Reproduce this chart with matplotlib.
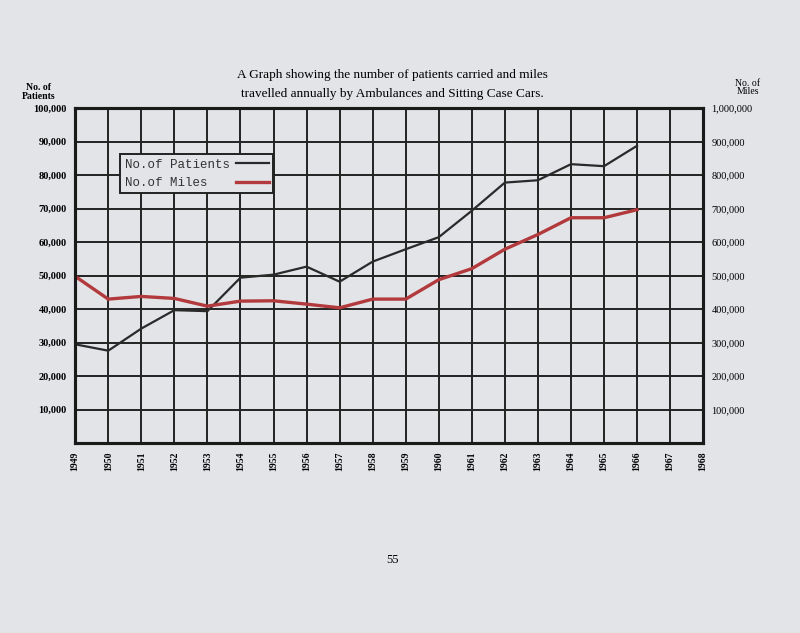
import matplotlib
matplotlib.use("Agg")
import matplotlib.pyplot as plt

# data
years = list(range(1949, 1969))
patient_years = list(range(1949, 1967))
patients = [29500, 27600, 34200, 39700, 39400, 49400, 50300, 52700, 48200, 54200,
            57900, 61500, 69400, 77800, 78500, 83300, 82700, 88800]
miles = [498000, 430000, 438000, 432000, 409000, 424000, 425000, 415000, 404000, 430000,
         430000, 488000, 521000, 579000, 623000, 673000, 673000, 697000]

left_ticks = [10000, 20000, 30000, 40000, 50000, 60000, 70000, 80000, 90000, 100000]
right_ticks = [100000, 200000, 300000, 400000, 500000, 600000, 700000, 800000, 900000, 1000000]

page = "#e3e4e8"
serif = ["Liberation Serif", "DejaVu Serif"]
mono = ["Liberation Mono", "DejaVu Sans Mono"]

fig = plt.figure(figsize=(8, 6.33), dpi=100, facecolor=page)
ax = fig.add_axes([0.094, 0.30, 0.785, 0.529])
ax.set_facecolor(page)
ax2 = ax.twinx()

# grid
ax.set_xlim(1949, 1968)
ax.set_ylim(0, 100000)
ax2.set_ylim(0, 1000000)
ax.set_xticks(years)
ax.set_xticklabels([str(y) for y in years], rotation=90, family=serif,
                   fontsize=7, fontweight="bold")
ax.set_yticks(left_ticks)
ax.set_yticklabels([f"{v:,}" for v in left_ticks], family=serif, fontsize=7.5,
                   fontweight="bold")
ax2.set_yticks(right_ticks)
ax2.set_yticklabels([f"{v:,}" for v in right_ticks], family=serif, fontsize=7.5)
ax.grid(True, color="#222222", linewidth=1.4)
ax.tick_params(length=0, pad=6)
ax2.tick_params(length=0, pad=6)
for a in (ax, ax2):
    for s in a.spines.values():
        s.set_linewidth(2.2)
        s.set_color("#1a1a1a")

# the two series
ax.plot(patient_years, patients, color="#2a2a2a", linewidth=1.6, label="No.of Patients")
ax2.plot(patient_years, miles, color="#b23a3c", linewidth=2.4, label="No.of Miles   ")

h1, l1 = ax.get_legend_handles_labels()
h2, l2 = ax2.get_legend_handles_labels()
leg = ax2.legend(h1 + h2, l1 + l2, loc="upper left", bbox_to_anchor=(0.072, 0.862),
                 markerfirst=False, fancybox=False, framealpha=1, facecolor=page,
                 edgecolor="#222222", prop={"family": mono, "size": 9},
                 handlelength=2.6, borderpad=0.35, labelspacing=0.5, borderaxespad=0,
                 handletextpad=0.5)
leg.get_frame().set_linewidth(1.4)
for t in leg.get_texts():
    t.set_color("#333333")

fig.text(0.49, 0.866, "A Graph showing the number of patients carried and miles\n"
         "travelled annually by Ambulances and Sitting Case Cars.",
         ha="center", va="center", family=serif, fontsize=9.5, linespacing=1.75)
fig.text(0.048, 0.855, "No. of\nPatients", ha="center", va="center", family=serif,
         fontsize=7, fontweight="bold", linespacing=0.95)
fig.text(0.935, 0.862, "No. of\nMiles", ha="center", va="center", family=serif,
         fontsize=7, linespacing=0.95)
fig.text(0.491, 0.115, "55", ha="center", va="center", family=serif, fontsize=9)

fig.savefig("out.png", dpi=100, facecolor=page)
